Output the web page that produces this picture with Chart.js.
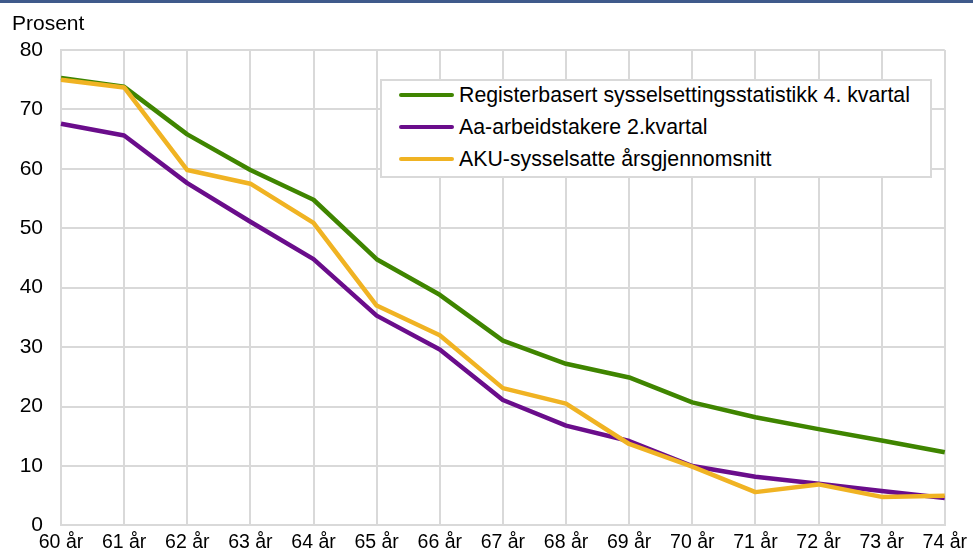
<!DOCTYPE html>
<html>
<head>
<meta charset="utf-8">
<script src="https://cdn.jsdelivr.net/npm/chart.js@4"></script>
<style>
  html, body { margin: 0; padding: 0; background: #fff; }
  #wrap { position: relative; width: 973px; height: 556px; overflow: hidden; }
  #topline { position: absolute; left: 0; top: 0; width: 973px; height: 3px; background: #3f5a8b; z-index: 3; }
  #legend { position: absolute; left: 380px; top: 79px; width: 548px; height: 95px;
            border: 2px solid #d9d9d9; background: #fff; z-index: 2;
            font-family: "Liberation Sans", Arial, sans-serif; font-size: 21.3px; color: #000; }
  .item { position: absolute; left: 0; height: 24px; }
  .sw { position: absolute; left: 17px; top: 10px; width: 55px; height: 4px; border-radius: 2px; }
  .tx { position: absolute; left: 77px; top: 0; white-space: nowrap; line-height: 24px; }
  canvas { display: block; }
</style>
</head>
<body>
<div id="wrap">
  <div id="topline"></div>
  <canvas id="c" width="973" height="556"></canvas>
  <div id="legend"></div>
</div>
<script>
const categories = ["60 år","61 år","62 år","63 år","64 år","65 år","66 år","67 år","68 år","69 år","70 år","71 år","72 år","73 år","74 år"];
const registerbasert = [75.3, 73.8, 65.8, 59.8, 54.8, 44.8, 38.8, 31.1, 27.2, 24.9, 20.7, 18.2, 16.2, 14.3, 12.3];
const aaArbeidstakere = [67.6, 65.6, 57.6, 51.1, 44.8, 35.3, 29.6, 21.1, 16.8, 14.2, 10.0, 8.2, 7.0, 5.8, 4.6];
const akuSysselsatte = [75.0, 73.7, 59.8, 57.5, 50.9, 37.0, 32.0, 23.1, 20.5, 13.7, 9.9, 5.6, 6.9, 4.8, 5.0];
const seriesNames = ["Registerbasert sysselsettingsstatistikk 4. kvartal", "Aa-arbeidstakere 2.kvartal", "AKU-sysselsatte årsgjennomsnitt"];
const yTicks = [0, 10, 20, 30, 40, 50, 60, 70, 80];
const yTitle = "Prosent";

const colors = ["#3f8500", "#6a0d8b", "#f0b323"];
const FONT = '"Liberation Sans", Arial, sans-serif';

const mk = (i, data, order) => ({
  label: seriesNames[i], data, borderColor: colors[i], backgroundColor: colors[i],
  borderWidth: 4.5, pointRadius: 0, pointHoverRadius: 0, tension: 0, fill: false,
  borderJoinStyle: 'round', borderCapStyle: 'butt', order
});

const chart = new Chart(document.getElementById('c'), {
  type: 'line',
  data: {
    labels: categories,
    datasets: [mk(0, registerbasert, 2), mk(1, aaArbeidstakere, 1), mk(2, akuSysselsatte, 0)]
  },
  options: {
    responsive: false,
    animation: false,
    layout: { padding: { left: 12, right: 27, top: 0, bottom: 0 } },
    plugins: {
      legend: { display: false },
      tooltip: { enabled: false },
      title: {
        display: true, text: yTitle, align: 'start', color: '#000',
        font: { family: FONT, size: 21, weight: 'normal' },
        padding: { top: 12, bottom: 12.8 }
      }
    },
    scales: {
      x: {
        offset: false,
        grid: { color: '#d9d9d9', lineWidth: 2, drawTicks: false },
        border: { color: '#d9d9d9', width: 2 },
        ticks: { color: '#000', font: { family: FONT, size: 19.5 }, padding: 6, maxRotation: 0, autoSkip: false },
        afterFit: s => { s.height = 27; }
      },
      y: {
        min: 0, max: 80,
        afterBuildTicks: s => { s.ticks = yTicks.map(v => ({ value: v })); },
        grid: { color: '#d9d9d9', lineWidth: 2, drawTicks: false },
        border: { color: '#d9d9d9', width: 2 },
        ticks: { color: '#000', font: { family: FONT, size: 21 }, padding: 18 },
        afterFit: s => { s.width = 49; }
      }
    }
  }
});

// HTML legend built from the chart's datasets
const lg = document.getElementById('legend');
const rowTops = [2, 34, 66];
chart.data.datasets.forEach((ds, i) => {
  const it = document.createElement('div');
  it.className = 'item';
  it.style.top = rowTops[i] + 'px';
  it.style.width = '100%';
  const sw = document.createElement('div');
  sw.className = 'sw';
  sw.style.background = ds.borderColor;
  const tx = document.createElement('div');
  tx.className = 'tx';
  tx.textContent = ds.label;
  it.appendChild(sw); it.appendChild(tx);
  lg.appendChild(it);
});
</script>
</body>
</html>
